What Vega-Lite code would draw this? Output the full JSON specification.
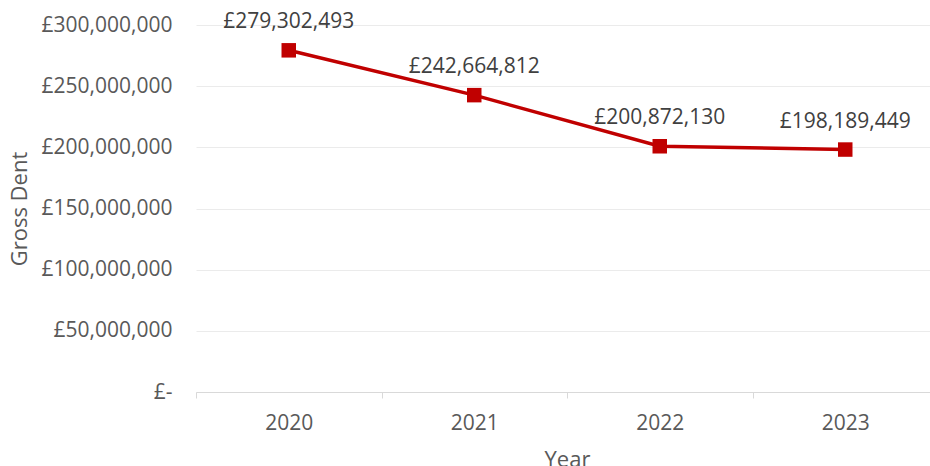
{
  "$schema": "https://vega.github.io/schema/vega-lite/v6.json",
  "autosize": "none",
  "width": 742,
  "height": 367,
  "padding": {"left": 196, "top": 25, "right": 0, "bottom": 74},
  "background": "white",
  "config": {
    "view": {"stroke": null},
    "font": "Open Sans",
    "axis": {"labelFont": "Open Sans", "titleFont": "Open Sans", "labelColor": "#595959", "titleColor": "#595959", "labelFontSize": 21, "titleFontSize": 22, "titleFontWeight": "normal"}
  },
  "data": {"values": [
    {"Year": "2020", "Value": 279302493, "Label": "£279,302,493"},
    {"Year": "2021", "Value": 242664812, "Label": "£242,664,812"},
    {"Year": "2022", "Value": 200872130, "Label": "£200,872,130"},
    {"Year": "2023", "Value": 198189449, "Label": "£198,189,449"}
  ]},
  "encoding": {
    "x": {"field": "Year", "type": "ordinal", "scale": {"paddingInner": 0, "paddingOuter": 0},
      "axis": {"labelAngle": 0, "tickBand": "extent", "domainColor": "#d9d9d9", "tickColor": "#d9d9d9", "tickSize": 6, "labelPadding": 14, "titlePadding": 16, "title": "Year"}},
    "y": {"field": "Value", "type": "quantitative", "scale": {"domain": [0, 300000000]},
      "axis": {"values": [0, 50000000, 100000000, 150000000, 200000000, 250000000, 300000000],
        "labelExpr": "datum.value == 0 ? '£-' : '£' + format(datum.value, ',')",
        "domain": false, "ticks": false, "labelPadding": 24, "gridColor": "#ebebeb", "gridWidth": 1.2, "title": "Gross Dent", "titlePadding": 10}}
  },
  "layer": [
    {"mark": {"type": "line", "color": "#c00000", "strokeWidth": 3.5}},
    {"mark": {"type": "square", "color": "#c00000", "opacity": 1, "size": 210, "filled": true}},
    {"mark": {"type": "text", "dy": -28, "fontSize": 21, "color": "#404040", "font": "Open Sans"}, "encoding": {"text": {"field": "Label"}}}
  ]
}
